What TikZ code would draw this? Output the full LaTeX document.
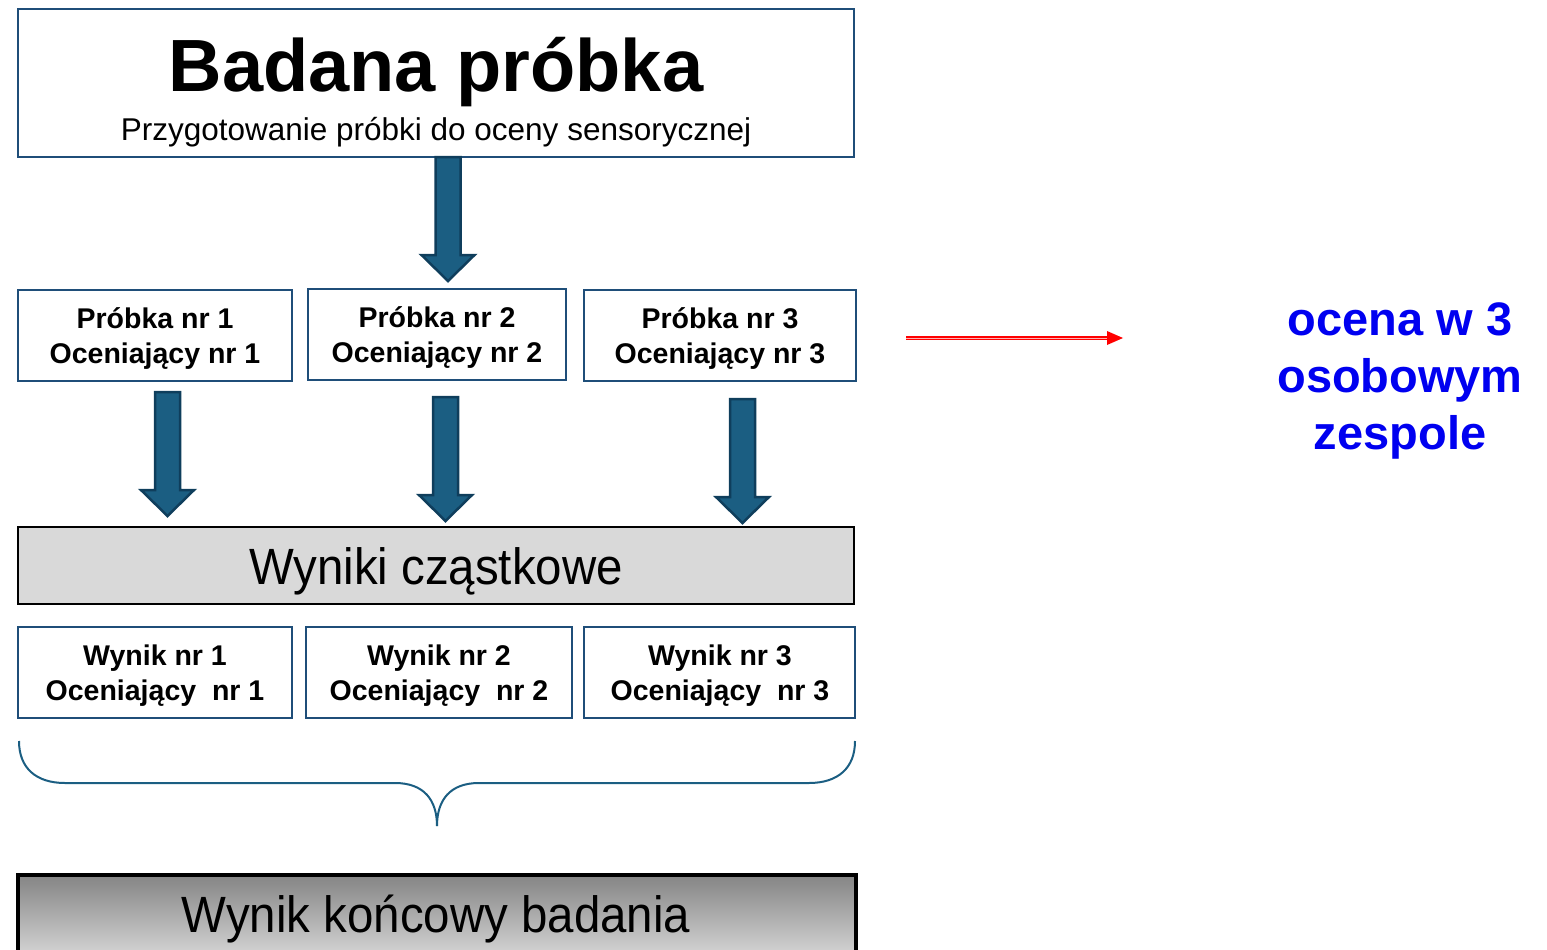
\documentclass[tikz,border=0pt]{standalone}
\usepackage{fontspec}
\setmainfont{Liberation Sans}
\usetikzlibrary{arrows.meta}
\definecolor{boxline}{HTML}{1F4E79}
\definecolor{arrfill}{HTML}{1B5E82}
\definecolor{arrline}{HTML}{0F3E5C}
\definecolor{bluetxt}{HTML}{0000F0}
\definecolor{graybox}{HTML}{D9D9D9}
\tikzset{
  plainbox/.style={draw=boxline,line width=1.5pt,fill=white,inner sep=0pt},
  smalltxt/.style={align=center,font=\fontsize{28.5}{35}\selectfont\bfseries},
  barrow/.style={fill=arrfill,draw=arrline,line width=2.5pt,line join=miter},
  bracestyle/.style={draw=arrfill,line width=2pt},
}
\newcommand\blockarrow[4]{% center x, top y, head start y, tip y
  \draw[barrow] (#1-12.5,#2) -- (#1+12.5,#2) -- (#1+12.5,#3) -- (#1+26.5,#3) -- (#1,#4) -- (#1-26.5,#3) -- (#1-12.5,#3) -- cycle;}
\begin{document}
\begin{tikzpicture}[x=1pt,y=-1pt]
\useasboundingbox (0,0) rectangle (1547,950);
% top box
\draw[plainbox] (18,9) rectangle (854,157);
\node (title) at (436,72) {\fontsize{74}{80}\selectfont\bfseries Badana próbka};
\node (sub) at (436,132) {\fontsize{31.5}{36}\selectfont Przygotowanie próbki do oceny sensorycznej};
% arrow 1
\blockarrow{448}{157}{255}{281}
% row 2
\draw[plainbox] (18,290) rectangle (292,381);
\node[smalltxt] (p1) at (155,339) {Próbka nr 1\\Oceniający nr 1};
\draw[plainbox] (308,289) rectangle (566,380);
\node[smalltxt] (p2) at (437,338) {Próbka nr 2\\Oceniający nr 2};
\draw[plainbox] (584,290) rectangle (856,381);
\node[smalltxt] (p3) at (720,339) {Próbka nr 3\\Oceniający nr 3};
% arrows
\blockarrow{167.5}{392}{490}{516}
\blockarrow{445.5}{397}{495}{521}
\blockarrow{742.5}{399}{497}{523}
% Wyniki czastkowe
\draw[fill=graybox,draw=black,line width=1.5pt] (18,527) rectangle (854,604);
\node (wc) at (436,571) {\fontsize{51}{56}\selectfont\scalebox{0.93}[1]{Wyniki cząstkowe}};
% row 3
\draw[plainbox] (18,627) rectangle (292,718);
\node[smalltxt] (w1) at (155,676) {Wynik nr 1\\Oceniający\ \ nr 1};
\draw[plainbox] (306,627) rectangle (572,718);
\node[smalltxt] (w2) at (439,676) {Wynik nr 2\\Oceniający\ \ nr 2};
\draw[plainbox] (584,627) rectangle (855,718);
\node[smalltxt] (w3) at (720,676) {Wynik nr 3\\Oceniający\ \ nr 3};
% brace
\draw[bracestyle] (19,741) .. controls (19,768) and (36,783) .. (65,783) -- (395,783) .. controls (424,783) and (437,800) .. (437,826);
\draw[bracestyle] (855,741) .. controls (855,768) and (838,783) .. (809,783) -- (479,783) .. controls (450,783) and (437,800) .. (437,826);
% final box
\shade[top color=black!48,bottom color=black!17] (18,875) rectangle (856,955);
\draw[black,line width=4pt] (18,955) -- (18,875) -- (856,875) -- (856,955);
\node (final) at (436,919) {\fontsize{51}{56}\selectfont\scalebox{0.93}[1]{Wynik końcowy badania}};
% red arrow
\coordinate (ra) at (906,338);
\coordinate (rb) at (1108,338);
\coordinate (rtip) at (1123,338);
\draw[red,line width=1.6pt,double=red!30,double distance=1pt] (ra) -- (rb);
\fill[red] (1107,331) -- (rtip) -- (1107,345) -- cycle;
% blue text
\node[align=center,text=bluetxt,font=\fontsize{47}{57}\selectfont\bfseries] (ocena) at (1400,381) {ocena w 3\\osobowym\\zespole};
\end{tikzpicture}
\end{document}
